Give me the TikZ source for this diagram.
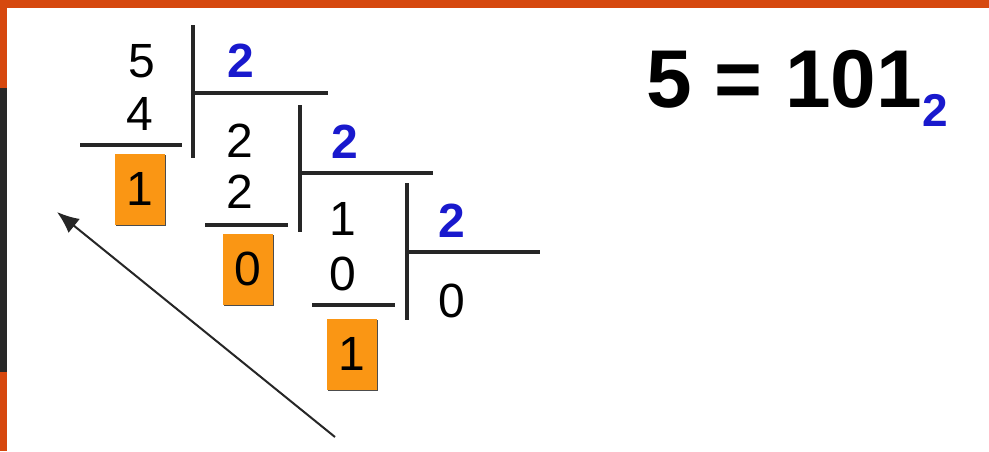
\documentclass[tikz,border=0pt]{standalone}
\usepackage{fontspec}
\setmainfont{Liberation Sans}
\usetikzlibrary{arrows.meta,positioning,shadows}
\definecolor{quotblue}{RGB}{25,25,205}
\definecolor{remorange}{RGB}{250,150,20}
\definecolor{frameorange}{RGB}{214,72,14}
\definecolor{framedark}{RGB}{40,40,40}

\begin{document}
\begin{tikzpicture}[>=Stealth,x=0.5pt,y=-0.5pt,font=\fontsize{24}{24}\selectfont,
 digit/.style={anchor=base,inner sep=0pt},
 quot/.style={digit,text=quotblue,font=\fontsize{24}{24}\selectfont\bfseries},
 rem/.style={fill=remorange,inner sep=0pt,minimum width=25pt,minimum height=35.5pt,
   drop shadow={shadow xshift=0.6pt,shadow yshift=-0.8pt,opacity=0.7,fill=black}},
 rule/.style={line width=1.7pt,black!85}]
% frame
\useasboundingbox (0,0) rectangle (989,451);
\fill[white] (0,0) rectangle (989,451);
\fill[frameorange] (0,0) rectangle (989,8);
\fill[frameorange] (0,0) rectangle (7,88);
\fill[framedark] (0,88) rectangle (7,372);
\fill[frameorange] (0,372) rectangle (7,451);
% step 1: 5 : 2
\node[digit] (n5) at (142,77) {5};
\node[quot] (q1) at (241,77) {2};
\node[digit] (s4) at (140,130) {4};
\node[rem] (r1) at (140,189) {1};
\draw[rule] (193,25) -- (193,158);
\draw[rule] (193,93) -- (328,93);
\draw[rule] (80,145) -- (182,145);
% step 2: 2 : 2
\node[digit] (n2) at (240,157) {2};
\node[quot] (q2) at (345,158) {2};
\node[digit] (s2) at (240,208) {2};
\node[rem] (r2) at (247.5,269) {0};
\draw[rule] (300,105) -- (300,232);
\draw[rule] (300,173) -- (433,173);
\draw[rule] (205,225) -- (288,225);
% step 3: 1 : 2
\node[digit] (n1) at (343,235) {1};
\node[quot] (q3) at (452,237) {2};
\node[digit] (s0) at (343,290) {0};
\node[digit] (res) at (452,317) {0};
\node[rem] (r3) at (352,354) {1};
\draw[rule] (407,183) -- (407,320);
\draw[rule] (407,252) -- (540,252);
\draw[rule] (312,305) -- (395,305);
% read the remainders upwards
\coordinate (readstart) at (335,437);
\coordinate (readend) at (57,212);
\draw[-{Latex[length=11pt,width=9pt]},line width=1pt,black!85] (readstart) -- (readend);
% result
\node[anchor=base west,inner sep=0pt,font=\fontsize{41}{41}\selectfont\bfseries] (result) at (646,107)
 {5 = 101\raisebox{-9.5pt}{\fontsize{23}{23}\selectfont\textcolor{quotblue}{2}}};
\end{tikzpicture}
\end{document}
